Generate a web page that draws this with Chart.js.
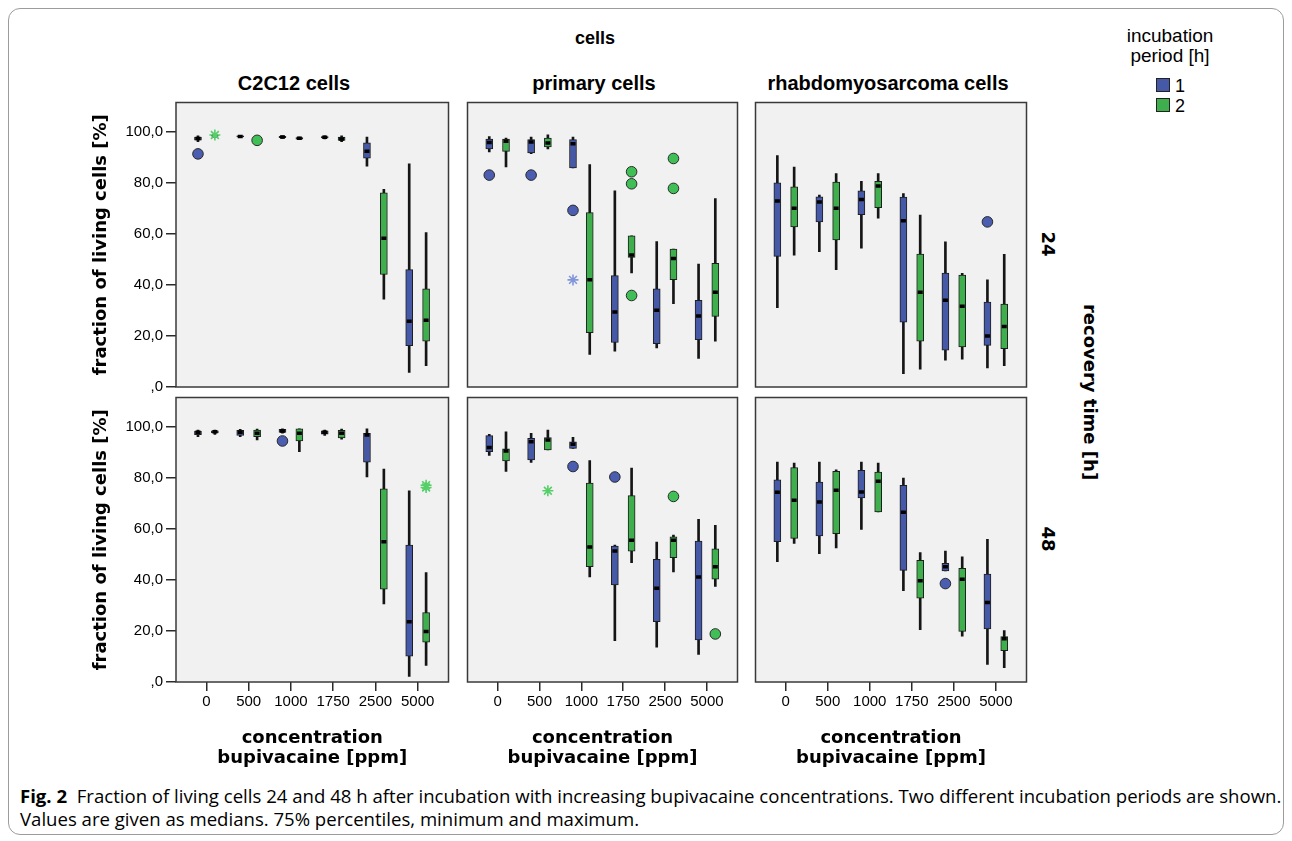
<!DOCTYPE html>
<html>
<head>
<meta charset="utf-8">
<script src="https://cdn.jsdelivr.net/npm/chart.js@4.4.1/dist/chart.umd.min.js"></script>
<style>
html,body{margin:0;padding:0;background:#fff;}
#fig{position:relative;width:1292px;height:841px;overflow:hidden;font-family:"Liberation Sans",Arial,sans-serif;color:#000;}
.wrap{position:absolute;}
.t{position:absolute;white-space:nowrap;transform:translate(-50%,-50%);}
.b{font-weight:bold;}
.rot{transform:translate(-50%,-50%) rotate(90deg);}
.sq{position:absolute;width:14px;height:14px;box-sizing:border-box;border:1px solid #222;}
#frame{position:absolute;left:8px;top:8px;width:1276px;height:827px;box-sizing:border-box;border:1px solid #9c9c9c;border-radius:12px;}
.cap{position:absolute;left:20px;white-space:nowrap;font-family:"Open Sans","Noto Sans",sans-serif;font-size:16px;line-height:1;}
</style>
</head>
<body>
<div id="fig">
  <div id="frame"></div>
  <div class="t b" style="left:595px;top:38px;font-size:18px;">cells</div>
  <div class="t b" style="left:294px;top:83px;font-size:20px;">C2C12 cells</div>
  <div class="t b" style="left:594px;top:83px;font-size:20px;">primary cells</div>
  <div class="t b" style="left:888px;top:83px;font-size:20px;">rhabdomyosarcoma cells</div>

  <div class="t" style="left:1170px;top:36px;font-size:19px;">incubation</div>
  <div class="t" style="left:1170px;top:56px;font-size:19px;">period [h]</div>
  <div class="sq" style="left:1156px;top:78px;background:#4659a6;"></div>
  <div class="t" style="left:1180px;top:86px;font-size:18px;">1</div>
  <div class="sq" style="left:1156px;top:98px;background:#3fae4c;"></div>
  <div class="t" style="left:1180px;top:106px;font-size:18px;">2</div>

  <div class="t b rot" style="left:1048px;top:244px;font-size:18px;font-family:'DejaVu Sans';">24</div>
  <div class="t b rot" style="left:1048px;top:539px;font-size:18px;font-family:'DejaVu Sans';">48</div>
  <div class="t b rot" style="left:1090px;top:392px;font-size:18px;font-family:'DejaVu Sans';">recovery time [h]</div>

  <div id="cap1" class="cap" style="top:787px;"><b>Fig. 2</b>&nbsp; Fraction of living cells 24 and 48 h after incubation with increasing bupivacaine concentrations. Two different incubation periods are shown.</div>
  <div id="cap2" class="cap" style="top:810px;">Values are given as medians. 75% percentiles, minimum and maximum.</div>
</div>
<script>
// ---------- data ----------
const categories = ['0', '500', '1000', '1750', '2500', '5000'];
const groups = ['1', '2'];
const yTickValues = [0, 20, 40, 60, 80, 100];
const yTickLabels = [',0', '20,0', '40,0', '60,0', '80,0', '100,0'];

// each row: [min, q1, median, q3, max] per concentration
const c2c12_24h_g1 = [[96.0,96.6,97.2,97.8,98.3],[97.5,97.8,98.0,98.3,98.5],[97.2,97.5,97.8,98.1,98.3],[97.1,97.4,97.7,98.0,98.3],[86.4,89.5,92.2,95.5,97.8],[5.7,16.2,25.7,45.9,87.3]];
const c2c12_24h_g2 = [[98.0,98.1,98.3,98.5,98.6],[96.4,96.5,96.6,96.7,96.8],[96.8,97.0,97.3,97.6,97.8],[96.0,96.5,97.0,97.8,98.3],[34.4,44.0,58.2,76.0,77.3],[8.3,17.9,26.1,38.4,60.4]];
const primary_24h_g1 = [[92.0,93.1,95.7,97.0,98.0],[91.3,91.6,95.8,96.8,97.8],[85.7,85.7,95.2,96.8,97.8],[14.0,17.4,29.3,43.6,76.7],[15.3,17.0,30.0,38.4,56.9],[11.2,18.5,27.8,33.9,48.1]];
const primary_24h_g2 = [[86.1,92.2,96.1,97.0,97.4],[93.1,93.9,95.5,97.4,98.7],[12.7,21.3,42.0,68.2,87.0],[44.6,50.7,51.6,59.1,59.1],[32.6,42.0,50.3,54.0,54.0],[17.9,27.6,37.1,48.4,73.7]];
const rhabdo_24h_g1 = [[31.0,51.1,72.8,79.9,90.5],[52.9,64.6,72.4,74.4,75.1],[54.3,67.4,73.4,76.7,80.5],[5.2,25.4,65.0,74.3,75.7],[10.5,14.4,33.9,44.6,56.8],[7.5,16.3,20.0,33.2,41.9]];
const rhabdo_24h_g2 = [[51.6,62.6,69.9,78.3,86.0],[45.9,57.5,69.9,80.2,83.5],[66.0,70.2,78.6,80.5,83.5],[7.0,17.9,37.1,52.0,67.3],[10.9,15.7,31.6,43.8,44.5],[8.3,15.0,23.7,32.4,51.9]];
const c2c12_48h_g1 = [[96.0,96.8,97.7,98.2,98.6],[96.0,96.5,97.7,98.5,98.8],[97.3,97.6,98.2,98.8,99.0],[96.5,97.0,97.7,98.3,98.6],[80.2,86.0,96.6,97.3,99.0],[2.2,10.1,23.6,53.6,74.8]];
const c2c12_48h_g2 = [[96.9,97.4,97.9,98.3,98.6],[94.7,96.0,97.3,98.6,98.9],[90.1,94.3,97.3,99.0,99.0],[95.0,95.5,97.3,98.5,98.9],[30.5,36.3,54.9,75.6,83.3],[6.5,15.6,19.8,27.2,42.8]];
const primary_48h_g1 = [[88.6,90.1,91.7,96.4,96.9],[85.9,86.9,94.0,95.3,97.3],[91.4,91.4,93.0,94.0,95.7],[16.2,38.0,51.2,53.2,53.6],[13.6,23.6,36.7,48.0,54.7],[10.8,16.5,41.1,55.1,63.6]];
const primary_48h_g2 = [[82.4,86.5,90.4,91.2,97.9],[90.8,90.8,94.7,95.6,98.6],[41.1,45.1,52.8,77.8,86.6],[46.7,51.2,55.5,72.9,83.7],[43.1,48.6,55.5,56.8,57.5],[37.4,40.2,45.1,52.1,61.3]];
const rhabdo_48h_g1 = [[47.1,54.9,74.2,79.1,86.0],[50.2,57.1,70.4,78.2,86.0],[59.7,72.0,74.3,82.8,86.0],[35.7,43.7,66.4,76.9,79.8],[43.5,43.5,45.1,46.4,51.2],[6.9,20.8,31.1,42.2,55.8]];
const rhabdo_48h_g2 = [[54.2,56.2,71.1,83.9,85.6],[52.5,58.0,75.0,82.4,83.0],[66.5,66.5,78.5,82.1,85.6],[20.5,32.8,39.6,47.6,50.6],[17.9,19.8,40.2,44.5,49.0],[5.6,12.3,16.9,17.8,20.1]];

// outliers: [category index, value]
const c2c12_24h_out_g1 = [[0,91.2]];
const c2c12_24h_out_g2 = [[1,96.5]];
const c2c12_24h_star_g2 = [[0,98.6]];
const primary_24h_out_g1 = [[0,82.9],[1,82.9],[2,69.1]];
const primary_24h_star_g1 = [[2,41.9]];
const primary_24h_out_g2 = [[3,84.2],[3,79.5],[3,35.8],[4,89.4],[4,77.7]];
const rhabdo_24h_out_g1 = [[5,64.6]];
const c2c12_48h_out_g1 = [[2,94.3]];
const c2c12_48h_star_g2 = [[5,76.1],[5,77.0]];
const primary_48h_out_g1 = [[2,84.3],[3,80.2]];
const primary_48h_out_g2 = [[4,72.6],[5,18.8]];
const primary_48h_star_g2 = [[1,74.8]];
const rhabdo_48h_out_g1 = [[4,38.5]];

// ---------- layout / style ----------
const BLUE = '#4659a6', GREEN = '#3fae4c';
const BLUE_OUT = '#4a5db0', GREEN_OUT = '#3fbf55';
const BLUE_STAR = '#8195da', GREEN_STAR = '#56cf69';
const OFF = 0.2;
const colX = [[176,452],[464,741],[752,1030]];
const rowY = [[101,387],[396,682]];

const panels = [
  {col:0,row:0,g:[c2c12_24h_g1,c2c12_24h_g2],o:[c2c12_24h_out_g1,c2c12_24h_out_g2],s:[[],c2c12_24h_star_g2]},
  {col:1,row:0,g:[primary_24h_g1,primary_24h_g2],o:[primary_24h_out_g1,primary_24h_out_g2],s:[primary_24h_star_g1,[]]},
  {col:2,row:0,g:[rhabdo_24h_g1,rhabdo_24h_g2],o:[rhabdo_24h_out_g1,[]],s:[[],[]]},
  {col:0,row:1,g:[c2c12_48h_g1,c2c12_48h_g2],o:[c2c12_48h_out_g1,[]],s:[[],c2c12_48h_star_g2]},
  {col:1,row:1,g:[primary_48h_g1,primary_48h_g2],o:[primary_48h_out_g1,primary_48h_out_g2],s:[[],primary_48h_star_g2]},
  {col:2,row:1,g:[rhabdo_48h_g1,rhabdo_48h_g2],o:[rhabdo_48h_out_g1,[]],s:[[],[]]}
];

const panelFrame = {
  id:'panelFrame',
  beforeDraw(chart){
    const {ctx, chartArea:a} = chart;
    ctx.save(); ctx.fillStyle = '#f1f1f1'; ctx.fillRect(a.left, a.top, a.right-a.left, a.bottom-a.top); ctx.restore();
  },
  afterDraw(chart){
    const {ctx, chartArea:a} = chart;
    ctx.save(); ctx.strokeStyle = '#3a3a3a'; ctx.lineWidth = 1.5;
    ctx.strokeRect(a.left, a.top, a.right-a.left, a.bottom-a.top); ctx.restore();
  }
};

function buildDatasets(p){
  const ds = [];
  const fills = [BLUE, GREEN], outs = [BLUE_OUT, GREEN_OUT], stars = [BLUE_STAR, GREEN_STAR];
  groups.forEach((gname, gi) => {
    const stats = p.g[gi];
    const off = gi === 0 ? -OFF : OFF;
    ds.push({type:'bar', label:'whisker '+gname, data: stats.map((s,i)=>({x:i+off, y:[s[0], s[4]]})),
      backgroundColor:'#151515', borderWidth:0, barThickness:2, grouped:false, order:3});
    ds.push({type:'bar', label:'box '+gname, data: stats.map((s,i)=>({x:i+off, y:[s[1], s[3]]})),
      backgroundColor:fills[gi], borderColor:'#1e1e1e', borderWidth:1, borderSkipped:false, barThickness:7, grouped:false, order:2});
    ds.push({type:'scatter', label:'median '+gname, data: stats.map((s,i)=>({x:i+off, y:s[2]})),
      pointStyle:'line', pointRadius:2.5, pointBorderWidth:3.5, pointBorderColor:'#000', borderColor:'#000', order:1});
    ds.push({type:'scatter', label:'outlier '+gname, data: p.o[gi].map(([c,v])=>({x:c+off, y:v})),
      pointStyle:'circle', pointRadius:5.3, pointBackgroundColor:outs[gi], backgroundColor:outs[gi], pointBorderColor:'#2b2b2b', borderColor:'#2b2b2b', pointBorderWidth:1, order:0});
    ds.push({type:'scatter', label:'extreme '+gname, data: p.s[gi].map(([c,v])=>({x:c+off, y:v})),
      pointStyle:'star', pointRadius:5.5, pointBorderColor:stars[gi], borderColor:stars[gi], pointBorderWidth:1.6, order:0});
  });
  return ds;
}

const fig = document.getElementById('fig');
panels.forEach(p => {
  const [px0, px1] = colX[p.col];
  const [py0, py1] = rowY[p.row];
  const showY = p.col === 0, showX = p.row === 1;
  const yW = 92, xH = 90;
  const pad = {left: showY ? 0 : 4, right: 4, top: 6, bottom: showX ? 4 : 9};
  const left = showY ? px0 - yW : px0 - pad.left;
  const width = px1 + pad.right - left;
  const top = py0 - pad.top;
  const height = (py1 - py0) + pad.top + pad.bottom + (showX ? xH : 0);
  const wrap = document.createElement('div');
  wrap.className = 'wrap';
  wrap.style.left = left + 'px'; wrap.style.top = top + 'px';
  wrap.style.width = width + 'px'; wrap.style.height = height + 'px';
  const cv = document.createElement('canvas');
  cv.width = width; cv.height = height;
  wrap.appendChild(cv); fig.appendChild(wrap);

  new Chart(cv, {
    type:'bar',
    data:{datasets: buildDatasets(p)},
    plugins:[panelFrame],
    options:{
      responsive:false, animation:false, events:[], devicePixelRatio:1,
      layout:{padding:pad},
      plugins:{legend:{display:false}, tooltip:{enabled:false}},
      scales:{
        x:{
          type:'linear', min:-0.72, max:5.73, offset:false, display:showX,
          afterBuildTicks: s => { s.ticks = categories.map((c,i)=>({value:i})); },
          afterFit: s => { if (showX) { s.height = xH; } s.paddingLeft = 0; s.paddingRight = 0; },
          ticks:{autoSkip:false, maxRotation:0, minRotation:0, padding:2, color:'#000',
            font:{family:'Liberation Sans', size:15}, callback:(v,i)=>categories[i]},
          grid:{display:true, offset:false, drawOnChartArea:false, drawTicks:true, tickLength:9, color:'#2a2a2a', lineWidth:1.5},
          border:{display:false},
          title:{display:true, text:['concentration','bupivacaine [ppm]'], color:'#000',
            font:{family:'DejaVu Sans', size:18, weight:'bold', lineHeight:1.1}, padding:{top:0,bottom:4}}
        },
        y:{
          type:'linear', min:0, max:111.3, display:showY,
          afterBuildTicks: s => { s.ticks = yTickValues.map(v=>({value:v})); },
          afterFit: s => { if (showY) { s.width = yW; } s.paddingTop = 0; s.paddingBottom = 0; },
          ticks:{autoSkip:false, padding:3, color:'#000', font:{family:'Liberation Sans', size:15},
            callback:(v,i)=>yTickLabels[i]},
          grid:{display:true, drawOnChartArea:false, drawTicks:true, tickLength:10, color:'#2a2a2a', lineWidth:1.5},
          border:{display:false},
          title:{display:true, text:'fraction of living cells [%]', color:'#000',
            font:{family:'DejaVu Sans', size:18, weight:'bold'}, padding:{top:7,bottom:0}}
        }
      }
    }
  });
});

// fit caption line 1 to the figure width
(function(){
  const c1 = document.getElementById('cap1'), c2 = document.getElementById('cap2');
  const w = c1.getBoundingClientRect().width;
  const size = 16 * 1262 / w;
  c1.style.fontSize = size + 'px'; c2.style.fontSize = size + 'px';
})();
</script>
</body>
</html>
